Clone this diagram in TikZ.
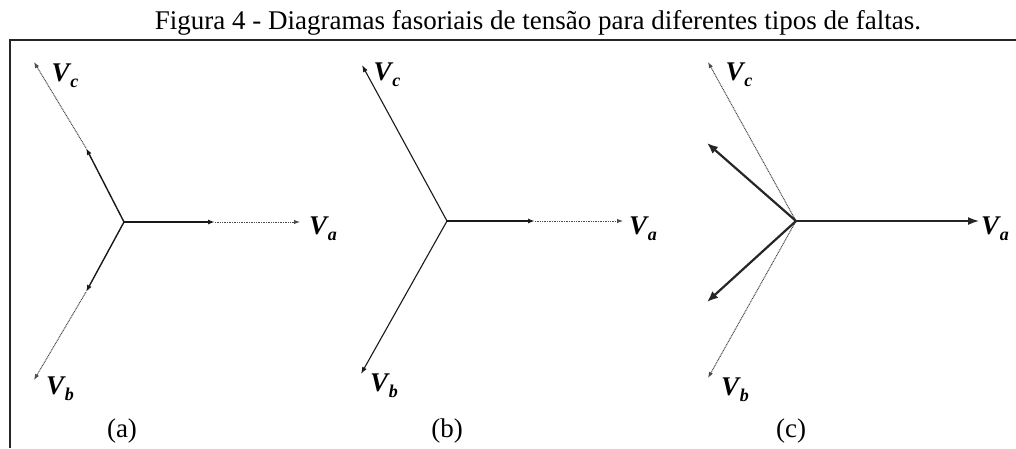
\documentclass[tikz,border=0pt]{standalone}
\usepackage{fontspec}
\setmainfont{Liberation Serif}
\usetikzlibrary{arrows.meta}
\newcommand\phs[1]{\textbf{\textit{V}}\kern-0.04em\raisebox{-0.5ex}{\fontsize{18}{18}\selectfont\textbf{\textit{#1}}}}
\tikzset{
  solidvec/.style={line width=1.4pt, black!90, -{Latex[length=7pt,width=5pt]}},
  dotvec/.style={line width=1pt, black!70, dash pattern=on 1pt off 0.7pt, -{Latex[length=6pt,width=4.5pt]}},
  thickvec/.style={line width=2.2pt, black!85, -{Latex[length=11pt,width=9pt]}},
  phlabel/.style={font=\fontsize{27}{27}\selectfont, inner sep=0pt},
  captext/.style={font=\fontsize{27}{30}\selectfont, inner sep=0pt, anchor=base}
}
\begin{document}
\begin{tikzpicture}[x=1pt,y=-1pt]
\useasboundingbox (0,0) rectangle (1016,448);
% frame
\coordinate (fr1) at (1016,40);
\coordinate (fr2) at (10,40);
\coordinate (fr3) at (10,448);
\draw[line width=1.3pt, black!85] (fr1) -- (fr2) -- (fr3);
\node[captext] (title) at (538,29.5) {Figura 4 - Diagramas fasoriais de tensão para diferentes tipos de faltas.};

% (a)
\coordinate (Oa) at (124,222);
\coordinate (Aa1) at (215,222);
\coordinate (Aa2) at (300,222);
\coordinate (Ca1) at (86,148);
\coordinate (Ca2) at (34,62);
\coordinate (Ba1) at (86,292);
\coordinate (Ba2) at (34,380);
\draw[dotvec] (Aa1) -- (Aa2);
\draw[dotvec] (Ca1) -- (Ca2);
\draw[dotvec] (Ba1) -- (Ba2);
\draw[solidvec] (Oa) -- (Aa1);
\draw[solidvec] (Oa) -- (Ca1);
\draw[solidvec] (Oa) -- (Ba1);
\node[phlabel] (VaA) at (323,229) {\phs{a}};
\node[phlabel] (VcA) at (65,76) {\phs{c}};
\node[phlabel] (VbA) at (60,389) {\phs{b}};
\node[captext] (la) at (122,437) {(a)};

% (b)
\coordinate (Ob) at (447,221);
\coordinate (Ab1) at (535,221);
\coordinate (Ab2) at (623,221);
\coordinate (Cb) at (362,65);
\coordinate (Bb) at (361,374);
\draw[dotvec] (Ab1) -- (Ab2);
\draw[solidvec] (Ob) -- (Ab1);
\draw[solidvec, line width=1.1pt] (Ob) -- (Cb);
\draw[solidvec, line width=1.1pt] (Ob) -- (Bb);
\node[phlabel] (VaB) at (643,229) {\phs{a}};
\node[phlabel] (VcB) at (387,75) {\phs{c}};
\node[phlabel] (VbB) at (384,386) {\phs{b}};
\node[captext] (lb) at (447,437) {(b)};

% (c)
\coordinate (Oc) at (796,221);
\coordinate (Ac) at (979,221);
\coordinate (Cc) at (708,62);
\coordinate (Bc) at (708,378);
\coordinate (Cc2) at (707,143);
\coordinate (Bc2) at (707,302);
\draw[dotvec] (Oc) -- (Cc);
\draw[dotvec] (Oc) -- (Bc);
\draw[line width=1.5pt, black!85, -{Latex[length=11pt,width=8pt]}] (Oc) -- (Ac);
\draw[thickvec] (Oc) -- (Cc2);
\draw[thickvec] (Oc) -- (Bc2);
\node[phlabel] (VaC) at (995,229) {\phs{a}};
\node[phlabel] (VcC) at (739,75) {\phs{c}};
\node[phlabel] (VbC) at (735,390) {\phs{b}};
\node[captext] (lc) at (791,437) {(c)};
\end{tikzpicture}
\end{document}
